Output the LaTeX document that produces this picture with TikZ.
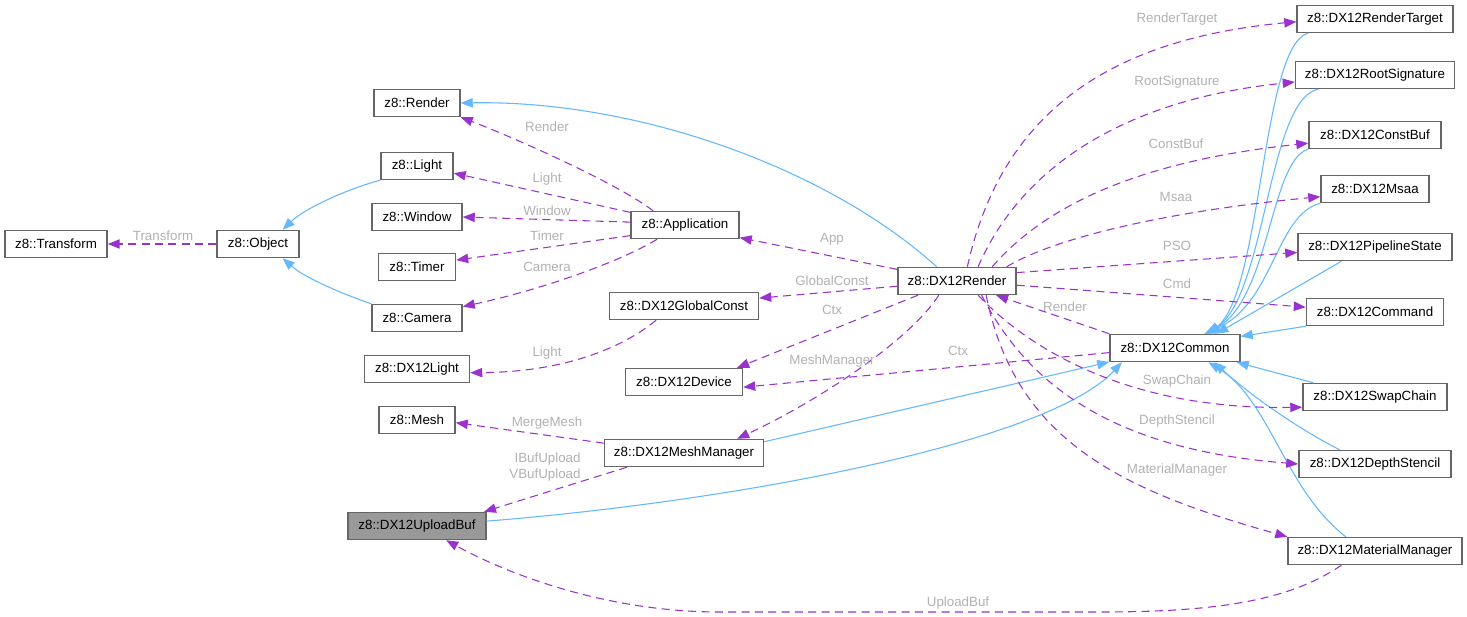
\documentclass[tikz,border=0pt]{standalone}
\usepackage{fontspec}
\setmainfont{Liberation Sans}
\usepackage{tikz}
\usepackage{xcolor}
\usetikzlibrary{arrows.meta}
\definecolor{inheritcolorc}{HTML}{63B8FF}
\definecolor{usagecolorc}{HTML}{9A32CD}
\definecolor{bordercolorc}{HTML}{666666}
\definecolor{currentcolorc}{HTML}{999999}
\colorlet{labelcolorc}{black!30!white}
\tikzstyle{classbox} =[
    draw=bordercolorc,
    fill=white,
    line width=1.1pt,
    rectangle,
    inner sep=0pt,
    minimum height=20.25pt,
    font=\fontsize{10}{12}\selectfont
    ]
\tikzstyle{currentbox} =[
    classbox,
    fill=currentcolorc
    ]
\tikzstyle{inherit} =[
    draw=inheritcolorc,
    line width=0.8pt,
    -{Triangle[length=9pt,width=7pt]}
    ]
\tikzstyle{usage} =[
    draw=usagecolorc,
    line width=0.8pt,
    dash pattern=on 6pt off 4pt,
    -{Triangle[length=9pt,width=7pt]}
    ]
\tikzstyle{edgelabel} =[
    text=labelcolorc,
    font=\fontsize{10}{12}\selectfont,
    inner sep=0pt
    ]

\begin{document}
\begin{tikzpicture}[x=0.75pt,y=-0.75pt]
\path[use as bounding box, fill=white] (0,0) rectangle (1467,617);

% classes, left part
\node[classbox, minimum width=76.5pt] (transform) at (56,244) {z8::Transform};
\node[classbox, minimum width=61.5pt] (object) at (258,244) {z8::Object};
\node[classbox, minimum width=64.5pt] (render) at (417,103) {z8::Render};
\node[classbox, minimum width=54pt] (light) at (417,166) {z8::Light};
\node[classbox, minimum width=67.5pt] (window) at (417,217) {z8::Window};
\node[classbox, minimum width=57.75pt] (timer) at (417,267) {z8::Timer};
\node[classbox, minimum width=67.5pt] (camera) at (417,318) {z8::Camera};
\node[classbox, minimum width=78.75pt] (dxlight) at (417,369) {z8::DX12Light};
\node[classbox, minimum width=57pt] (mesh) at (417,420) {z8::Mesh};
\node[currentbox, minimum width=103.5pt] (uploadbuf) at (417,526) {z8::DX12UploadBuf};
\node[classbox, minimum width=81pt] (app) at (685,225) {z8::Application};
\node[classbox, minimum width=111.75pt] (gconst) at (684,306) {z8::DX12GlobalConst};
\node[classbox, minimum width=87.75pt] (device) at (684,382) {z8::DX12Device};
\node[classbox, minimum width=119.25pt] (meshmgr) at (684,453) {z8::DX12MeshManager};
\node[classbox, minimum width=88.5pt] (dxrender) at (957,281) {z8::DX12Render};
\node[classbox, minimum width=97.5pt] (common) at (1175,348) {z8::DX12Common};

% classes, right column
\node[classbox, minimum width=117pt] (rtarget) at (1375,19) {z8::DX12RenderTarget};
\node[classbox, minimum width=119.25pt] (rootsig) at (1375,75) {z8::DX12RootSignature};
\node[classbox, minimum width=99pt] (constbuf) at (1375,135) {z8::DX12ConstBuf};
\node[classbox, minimum width=81pt] (msaa) at (1375,189) {z8::DX12Msaa};
\node[classbox, minimum width=115.5pt] (pso) at (1375,247) {z8::DX12PipelineState};
\node[classbox, minimum width=102.75pt] (command) at (1375,312) {z8::DX12Command};
\node[classbox, minimum width=108pt] (swapchain) at (1375,397) {z8::DX12SwapChain};
\node[classbox, minimum width=114pt] (depth) at (1375,464) {z8::DX12DepthStencil};
\node[classbox, minimum width=130.5pt] (matmgr) at (1375,551) {z8::DX12MaterialManager};

% inheritance
\draw[inherit] (light.south west) .. controls (350,188) and (305,208) .. (object.30);
\draw[inherit] (camera.north west) .. controls (345,295) and (305,278) .. (object.-30);
\draw[inherit] (dxrender.145) .. controls (830,170) and (640,100) .. (render.east);
\draw[inherit] (meshmgr.8) -- (common.192);
\draw[inherit] (uploadbuf.4) .. controls (750,500) and (1050,440) .. (common.195);
\draw[inherit] (rtarget.192) .. controls (1262,45) and (1262,290) .. (common.23);
\draw[inherit] (rootsig.194) .. controls (1268,100) and (1266,295) .. (common.24);
\draw[inherit] (constbuf.192) .. controls (1270,160) and (1270,300) .. (common.25);
\draw[inherit] (msaa.south west) .. controls (1275,215) and (1274,305) .. (common.26);
\draw[inherit] (pso.203) -- (common.19);
\draw[inherit] (command.south west) -- (common.10);
\draw[inherit] (swapchain.167) -- (common.-13);
\draw[inherit] (depth.158) .. controls (1300,430) and (1250,395) .. (common.-20);
\draw[inherit] (matmgr.154) .. controls (1285,490) and (1270,400) .. (common.-23);

% members
\draw[usage] (object.west) -- (transform.east) node[edgelabel] at (163,236) {Transform};
\draw[usage] (app.156) .. controls (620,185) and (520,140) .. (render.south east) node[edgelabel] at (547,127) {Render};
\draw[usage] (app.167) -- (light.-11) node[edgelabel] at (547,179) {Light};
\draw[usage] (app.177) -- (window.east) node[edgelabel] at (547,211) {Window};
\draw[usage] (app.191) -- (timer.10) node[edgelabel] at (547,236) {Timer};
\draw[usage] (app.207) .. controls (620,262) and (540,290) .. (camera.14) node[edgelabel] at (547,267) {Camera};
\draw[usage] (dxrender.169) -- (app.-13) node[edgelabel] at (832,239) {App};
\draw[usage] (dxrender.185) -- (gconst.6) node[edgelabel] at (832,281) {GlobalConst};
\draw[usage] (dxrender.200) -- (device.15) node[edgelabel] at (832,310) {Ctx};
\draw[usage] (dxrender.218) .. controls (910,340) and (820,400) .. (meshmgr.15) node[edgelabel] at (832,361) {MeshManager};
\draw[usage] (gconst.207) .. controls (620,350) and (560,372) .. (dxlight.-4) node[edgelabel] at (547,353) {Light};
\draw[usage] (common.184) -- (device.-5) node[edgelabel] at (958,351) {Ctx};
\draw[usage] (common.north west) -- (dxrender.-20) node[edgelabel] at (1065,307) {Render};
\draw[usage] (meshmgr.173) -- (mesh.-4) node[edgelabel] at (547,423) {MergeMesh};
\draw[usage] (meshmgr.194) -- (uploadbuf.12) node[edgelabel, align=right] at (545,467) {IBufUpload\\VBufUpload};
\draw[usage] (matmgr.203) .. controls (1290,600) and (1220,612) .. (1100,612) -- (720,612) .. controls (600,612) and (500,570) .. (uploadbuf.-26) node[edgelabel] at (958,603) {UploadBuf};
\draw[usage] (dxrender.54) .. controls (1000,120) and (1100,40) .. (rtarget.182) node[edgelabel] at (1177,19) {RenderTarget};
\draw[usage] (dxrender.34) .. controls (1020,170) and (1120,100) .. (rootsig.185) node[edgelabel] at (1177,82) {RootSignature};
\draw[usage] (dxrender.22) .. controls (1050,200) and (1150,160) .. (constbuf.187) node[edgelabel] at (1176,144) {ConstBuf};
\draw[usage] (dxrender.16) .. controls (1060,235) and (1180,210) .. (msaa.188) node[edgelabel] at (1176,197) {Msaa};
\draw[usage] (dxrender.8) -- (pso.184) node[edgelabel] at (1177,246) {PSO};
\draw[usage] (dxrender.-4) -- (command.176) node[edgelabel] at (1177,284) {Cmd};
\draw[usage] (dxrender.-34) .. controls (1030,350) and (1130,410) .. (swapchain.188) node[edgelabel] at (1177,381) {SwapChain};
\draw[usage] (dxrender.-30) .. controls (1030,390) and (1120,450) .. (depth.west) node[edgelabel] at (1177,421) {DepthStencil};
\draw[usage] (dxrender.-26) .. controls (1015,440) and (1120,490) .. (matmgr.north west) node[edgelabel] at (1177,470) {MaterialManager};
\end{tikzpicture}
\end{document}
